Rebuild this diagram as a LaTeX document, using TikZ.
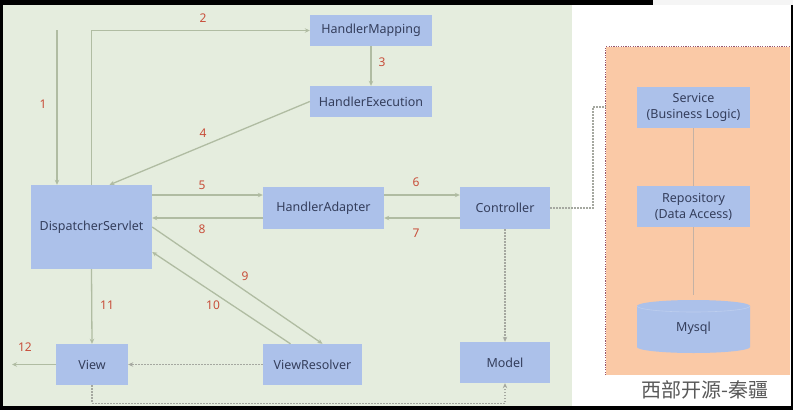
\documentclass[tikz,border=0pt]{standalone}
\usepackage{fontspec}
\setmainfont{Noto Sans}
\newfontfamily\cjkfont{Noto Sans CJK SC}
\usetikzlibrary{arrows.meta,positioning,calc}
\definecolor{bggreen}{RGB}{229,237,222}
\definecolor{boxblue}{RGB}{172,193,234}
\definecolor{boxtext}{RGB}{52,62,92}
\definecolor{stepred}{RGB}{200,78,58}
\definecolor{linegreen}{RGB}{176,188,162}
\definecolor{bizorange}{RGB}{250,201,166}
\definecolor{bizline}{RGB}{196,178,165}
\definecolor{dotgray}{RGB}{165,168,160}
\definecolor{dotred}{RGB}{150,85,110}

\begin{document}
\begin{tikzpicture}[x=1pt,y=-1pt,
    box/.style={rectangle,fill=boxblue,text=boxtext,inner sep=0pt,align=center,
                font=\fontsize{12.5}{16}\selectfont},
    num/.style={text=stepred,inner sep=0pt,font=\fontsize{12}{14}\selectfont},
    flow/.style={draw=linegreen,line width=1.3pt,-{Stealth[length=5pt,width=4.5pt]}},
    dotflow/.style={draw=dotgray,line width=1.3pt,dash pattern=on 1.5pt off 1.5pt,
                    -{Stealth[length=5pt,width=4.5pt]}},
    dotline/.style={draw=dotgray,line width=1.3pt,dash pattern=on 1.5pt off 1.5pt},
    link/.style={draw=bizline,line width=1.3pt}]

  % Rahmen und Hintergrund
  \fill[black] (0,0) rectangle (793,410);
  \fill[white] (3,5) rectangle (791,406);
  \fill[gray!8] (653,0) rectangle (793,5);
  \fill[bggreen] (3,5) rectangle (572,406);

  % Geschaeftsschicht
  \node[fill=bizorange,minimum width=184pt,minimum height=328pt,inner sep=0pt] (biz) at (698,211) {};
  \draw[dotred,line width=1.2pt,dash pattern=on 1.2pt off 1.2pt]
    (biz.south west) -- (biz.north west) -- (biz.north east);
  \node[text=gray!70!black,inner sep=0pt,font=\cjkfont\fontsize{20}{22}\selectfont] (mark) at (705,390) {西部开源-秦疆};

  % Knoten
  \node[box,minimum width=122pt,minimum height=31pt] (hm)    at (371,30.5)  {HandlerMapping};
  \node[box,minimum width=122pt,minimum height=31pt] (he)    at (371,101.5) {HandlerExecution};
  \node[box,minimum width=121pt,minimum height=84pt] (ds)    at (91.5,227)  {DispatcherServlet};
  \node[box,minimum width=121pt,minimum height=42pt] (ha)    at (323.5,208) {HandlerAdapter};
  \node[box,minimum width=90pt,minimum height=42pt]  (ctrl)  at (505,208)   {Controller};
  \node[box,minimum width=72pt,minimum height=41pt]  (view)  at (92,364.5)  {View};
  \node[box,minimum width=99pt,minimum height=41pt]  (vr)    at (312.5,364.5) {ViewResolver};
  \node[box,minimum width=90pt,minimum height=41pt]  (model) at (505,362.5) {Model};
  \node[box,minimum width=113pt,minimum height=41pt] (svc)   at (693.5,107.5) {Service\\(Business Logic)};
  \node[box,minimum width=113pt,minimum height=41pt] (repo)  at (693.5,206.5) {Repository\\(Data Access)};

  % Datenbank
  \fill[boxblue] (637,306) -- (637,347) arc[start angle=180,end angle=0,x radius=56.5,y radius=6]
    -- (750,306) arc[start angle=0,end angle=-180,x radius=56.5,y radius=6] -- cycle;
  \draw[boxblue!80!white,line width=0.6pt] (637,306) arc[start angle=180,end angle=0,x radius=56.5,y radius=6];
  \node[box,fill=none,minimum width=113pt,minimum height=53pt] (mysql) at (693.5,328) {Mysql};

  % Ablauf
  \coordinate (in1) at (57,30);
  \draw[flow] (in1) -- (in1 |- ds.north);
  \draw[flow] (ds.north) |- (hm.west);
  \draw[flow] (hm.south) -- (he.north);
  \draw[flow] (he.west) -- ([xshift=18pt]ds.north);
  \coordinate (r5) at ([yshift=13pt]ha.west);
  \draw[flow] (ds.east |- r5) -- (r5);
  \draw[flow] ([yshift=13pt]ha.east) -- ([yshift=13pt]ctrl.west);
  \draw[flow] ([yshift=-10pt]ctrl.west) -- ([yshift=-10pt]ha.east);
  \coordinate (r8) at ([yshift=-10pt]ha.west);
  \draw[flow] (r8) -- (ds.east |- r8);
  \draw[flow] (ds.east) -- ([xshift=10pt]vr.north);
  \draw[flow] ([xshift=-22pt]vr.north) -- ([yshift=-25pt]ds.east);
  \draw[flow] (ds.south) -- (view.north);
  \coordinate (out12) at (12,364.5);
  \draw[flow] (view.west) -- (out12);
  \draw[dotflow] (vr.west) -- (view.east);
  \draw[dotflow] (ctrl.south) -- (model.north);
  \coordinate (vbot) at ([yshift=-20pt]model.south);
  \draw[dotflow] (view.south) |- (vbot) -- (model.south);
  \coordinate (cs) at (593,107);
  \draw[dotline] (ctrl.east) -| (cs) -- (cs -| biz.west);
  \draw[link] (svc.south) -- (repo.north);
  \draw[link] (repo.south) -- ([yshift=6pt]mysql.north);

  % Schritte
  \node[num] (n1)  at (43,104)  {1};
  \node[num] (n2)  at (203,18)  {2};
  \node[num] (n3)  at (382,62)  {3};
  \node[num] (n4)  at (203,133) {4};
  \node[num] (n5)  at (202,185) {5};
  \node[num] (n6)  at (416,182) {6};
  \node[num] (n7)  at (416,233) {7};
  \node[num] (n8)  at (202,229) {8};
  \node[num] (n9)  at (245,276) {9};
  \node[num] (n10) at (213,305) {10};
  \node[num] (n11) at (107,305) {11};
  \node[num] (n12) at (25,347)  {12};
\end{tikzpicture}
\end{document}
